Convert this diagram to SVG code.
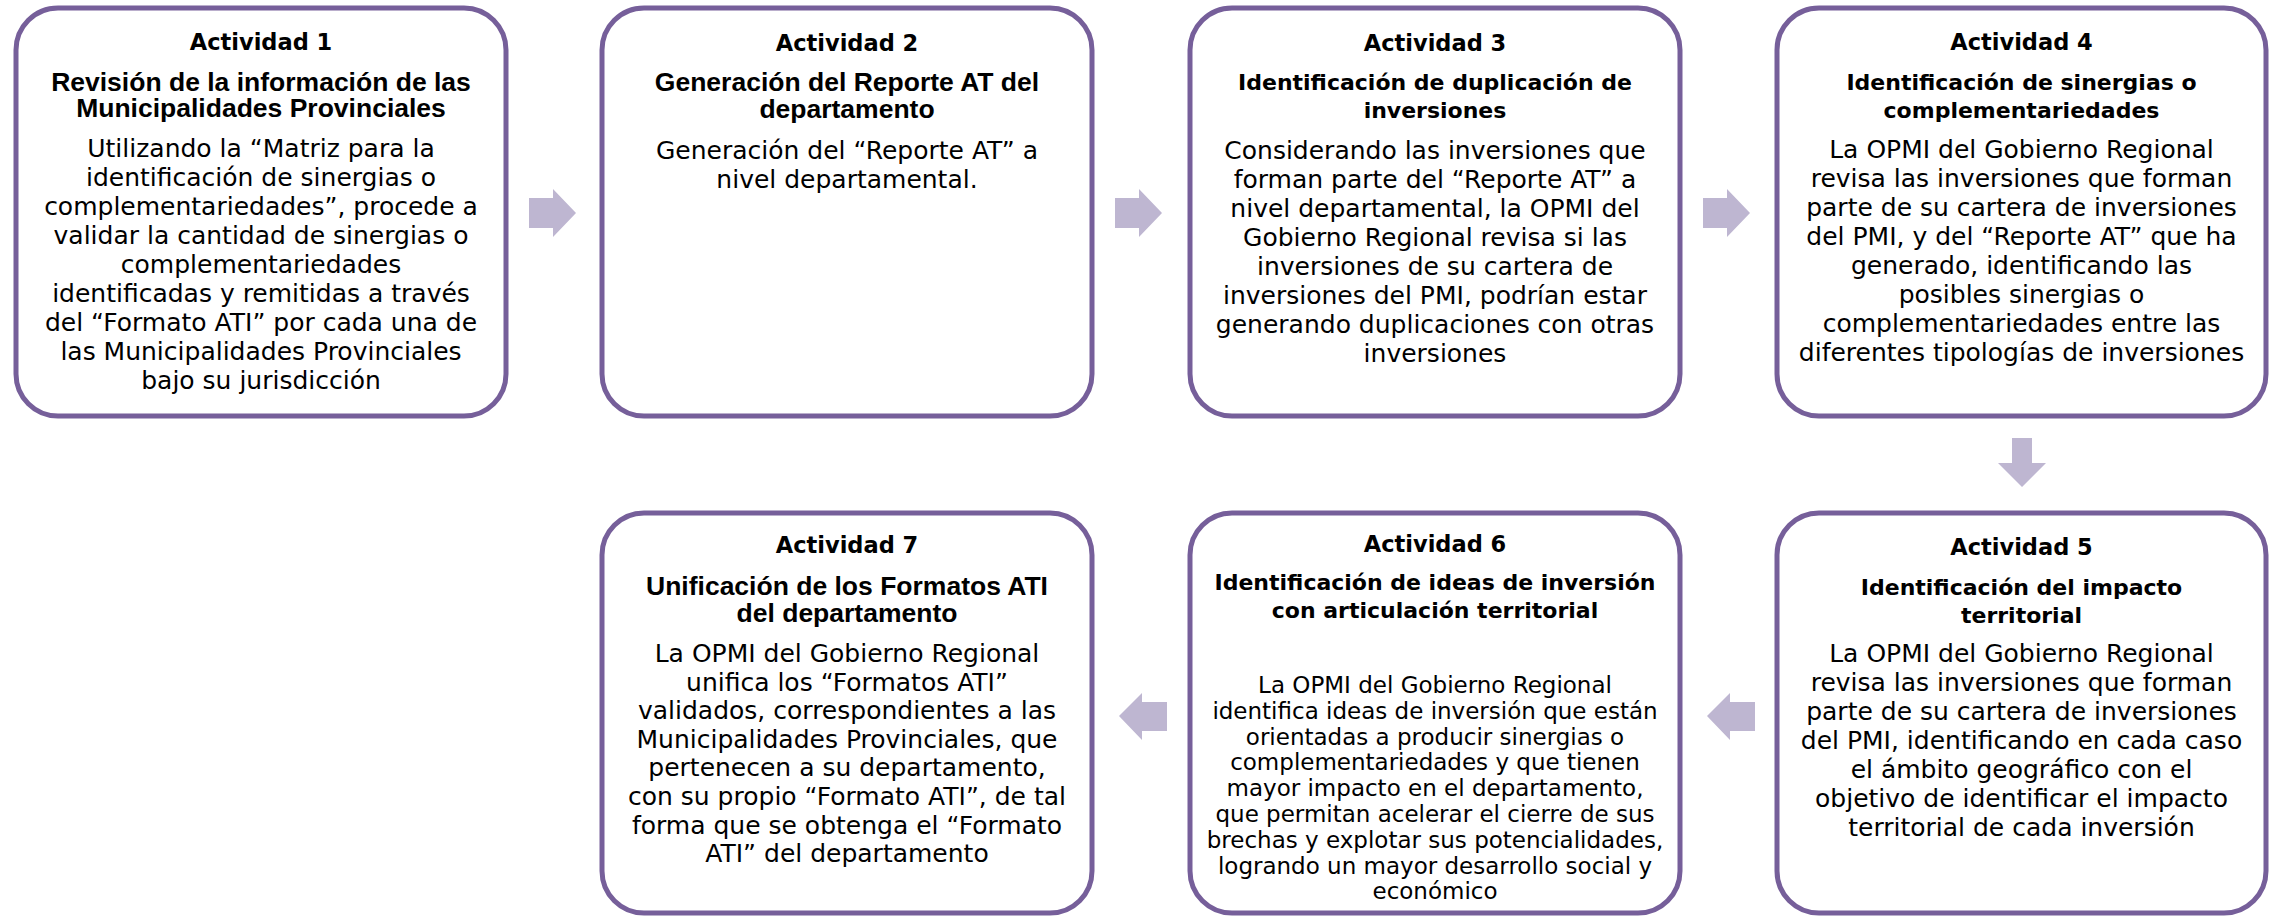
<svg xmlns="http://www.w3.org/2000/svg" width="2273" height="918" viewBox="0 0 2273 918">
<style>
.box{fill:#fff;stroke:#765F9A;stroke-width:5}
.arr{fill:#BEB6D1}
text{text-anchor:middle;fill:#000}
.act{font-family:"DejaVu Sans",Verdana,sans-serif;font-weight:bold;font-size:22.5px}
.ha{font-family:"Liberation Sans",Arial,sans-serif;font-weight:bold;font-size:26.5px}
.hc{font-family:"DejaVu Sans",Verdana,sans-serif;font-weight:bold;font-size:22px}
.body{font-family:"DejaVu Sans",Verdana,sans-serif;font-size:25px}
.body6{font-family:"DejaVu Sans",Verdana,sans-serif;font-size:23px}
</style>
<rect width="2273" height="918" fill="#fff"/>
<g id="connectors">
<path class="arr" d="M529,198H553V189L576,213L553,237V228H529Z"/>
<path class="arr" d="M1115,198H1139V189L1162,213L1139,237V228H1115Z"/>
<path class="arr" d="M1703,198H1727V189L1750,213L1727,237V228H1703Z"/>
<path class="arr" d="M2012,438H2032V463H2046L2022,487L1998,463H2012Z"/>
<path class="arr" d="M1707,716L1730,693V702H1755V731H1730V740Z"/>
<path class="arr" d="M1119,716L1142,693V702H1167V731H1142V740Z"/>
</g>
<g id="act1">
<rect class="box" x="16" y="8" width="490" height="408" rx="42"/>
<text class="act" x="261" y="50">Actividad 1</text>
<text class="ha" x="261"><tspan x="261" y="90.5">Revisión de la información de las</tspan><tspan x="261" y="117">Municipalidades Provinciales</tspan></text>
<text class="body" x="261"><tspan x="261" y="157">Utilizando la “Matriz para la</tspan><tspan x="261" y="186">identificación de sinergias o</tspan><tspan x="261" y="215">complementariedades”, procede a</tspan><tspan x="261" y="244">validar la cantidad de sinergias o</tspan><tspan x="261" y="273">complementariedades</tspan><tspan x="261" y="302">identificadas y remitidas a través</tspan><tspan x="261" y="331">del “Formato ATI” por cada una de</tspan><tspan x="261" y="360">las Municipalidades Provinciales</tspan><tspan x="261" y="389">bajo su jurisdicción</tspan></text>
</g>
<g id="act2">
<rect class="box" x="602" y="8" width="490" height="408" rx="42"/>
<text class="act" x="847" y="51">Actividad 2</text>
<text class="ha" x="847"><tspan x="847" y="91">Generación del Reporte AT del</tspan><tspan x="847" y="118">departamento</tspan></text>
<text class="body" x="847"><tspan x="847" y="159">Generación del “Reporte AT” a</tspan><tspan x="847" y="188">nivel departamental.</tspan></text>
</g>
<g id="act3">
<rect class="box" x="1190" y="8" width="490" height="408" rx="42"/>
<text class="act" x="1435" y="51">Actividad 3</text>
<text class="hc" x="1435"><tspan x="1435" y="90">Identificación de duplicación de</tspan><tspan x="1435" y="118">inversiones</tspan></text>
<text class="body" x="1435"><tspan x="1435" y="159">Considerando las inversiones que</tspan><tspan x="1435" y="188">forman parte del “Reporte AT” a</tspan><tspan x="1435" y="217">nivel departamental, la OPMI del</tspan><tspan x="1435" y="246">Gobierno Regional revisa si las</tspan><tspan x="1435" y="275">inversiones de su cartera de</tspan><tspan x="1435" y="304">inversiones del PMI, podrían estar</tspan><tspan x="1435" y="333">generando duplicaciones con otras</tspan><tspan x="1435" y="362">inversiones</tspan></text>
</g>
<g id="act4">
<rect class="box" x="1777" y="8" width="489" height="408" rx="42"/>
<text class="act" x="2021.5" y="50">Actividad 4</text>
<text class="hc" x="2021.5"><tspan x="2021.5" y="90">Identificación de sinergias o</tspan><tspan x="2021.5" y="118">complementariedades</tspan></text>
<text class="body" x="2021.5"><tspan x="2021.5" y="158">La OPMI del Gobierno Regional</tspan><tspan x="2021.5" y="187">revisa las inversiones que forman</tspan><tspan x="2021.5" y="216">parte de su cartera de inversiones</tspan><tspan x="2021.5" y="245">del PMI, y del “Reporte AT” que ha</tspan><tspan x="2021.5" y="274">generado, identificando las</tspan><tspan x="2021.5" y="303">posibles sinergias o</tspan><tspan x="2021.5" y="332">complementariedades entre las</tspan><tspan x="2021.5" y="361">diferentes tipologías de inversiones</tspan></text>
</g>
<g id="act5">
<rect class="box" x="1777" y="513" width="489" height="400" rx="42"/>
<text class="act" x="2021.5" y="555">Actividad 5</text>
<text class="hc" x="2021.5"><tspan x="2021.5" y="595">Identificación del impacto</tspan><tspan x="2021.5" y="623">territorial</tspan></text>
<text class="body" x="2021.5"><tspan x="2021.5" y="662">La OPMI del Gobierno Regional</tspan><tspan x="2021.5" y="691">revisa las inversiones que forman</tspan><tspan x="2021.5" y="720">parte de su cartera de inversiones</tspan><tspan x="2021.5" y="749">del PMI, identificando en cada caso</tspan><tspan x="2021.5" y="778">el ámbito geográfico con el</tspan><tspan x="2021.5" y="807">objetivo de identificar el impacto</tspan><tspan x="2021.5" y="836">territorial de cada inversión</tspan></text>
</g>
<g id="act6">
<rect class="box" x="1190" y="513" width="490" height="400" rx="42"/>
<text class="act" x="1435" y="552">Actividad 6</text>
<text class="hc" x="1435"><tspan x="1435" y="590">Identificación de ideas de inversión</tspan><tspan x="1435" y="618">con articulación territorial</tspan></text>
<text class="body6" x="1435"><tspan x="1435" y="693">La OPMI del Gobierno Regional</tspan><tspan x="1435" y="718.8">identifica ideas de inversión que están</tspan><tspan x="1435" y="744.6">orientadas a producir sinergias o</tspan><tspan x="1435" y="770.4">complementariedades y que tienen</tspan><tspan x="1435" y="796.2">mayor impacto en el departamento,</tspan><tspan x="1435" y="822">que permitan acelerar el cierre de sus</tspan><tspan x="1435" y="847.8">brechas y explotar sus potencialidades,</tspan><tspan x="1435" y="873.6">logrando un mayor desarrollo social y</tspan><tspan x="1435" y="899.4">económico</tspan></text>
</g>
<g id="act7">
<rect class="box" x="602" y="513" width="490" height="400" rx="42"/>
<text class="act" x="847" y="553">Actividad 7</text>
<text class="ha" x="847"><tspan x="847" y="595">Unificación de los Formatos ATI</tspan><tspan x="847" y="622">del departamento</tspan></text>
<text class="body" x="847"><tspan x="847" y="662">La OPMI del Gobierno Regional</tspan><tspan x="847" y="690.6">unifica los “Formatos ATI”</tspan><tspan x="847" y="719.2">validados, correspondientes a las</tspan><tspan x="847" y="747.8">Municipalidades Provinciales, que</tspan><tspan x="847" y="776.4">pertenecen a su departamento,</tspan><tspan x="847" y="805">con su propio “Formato ATI”, de tal</tspan><tspan x="847" y="833.6">forma que se obtenga el “Formato</tspan><tspan x="847" y="862.2">ATI” del departamento</tspan></text>
</g>
</svg>
